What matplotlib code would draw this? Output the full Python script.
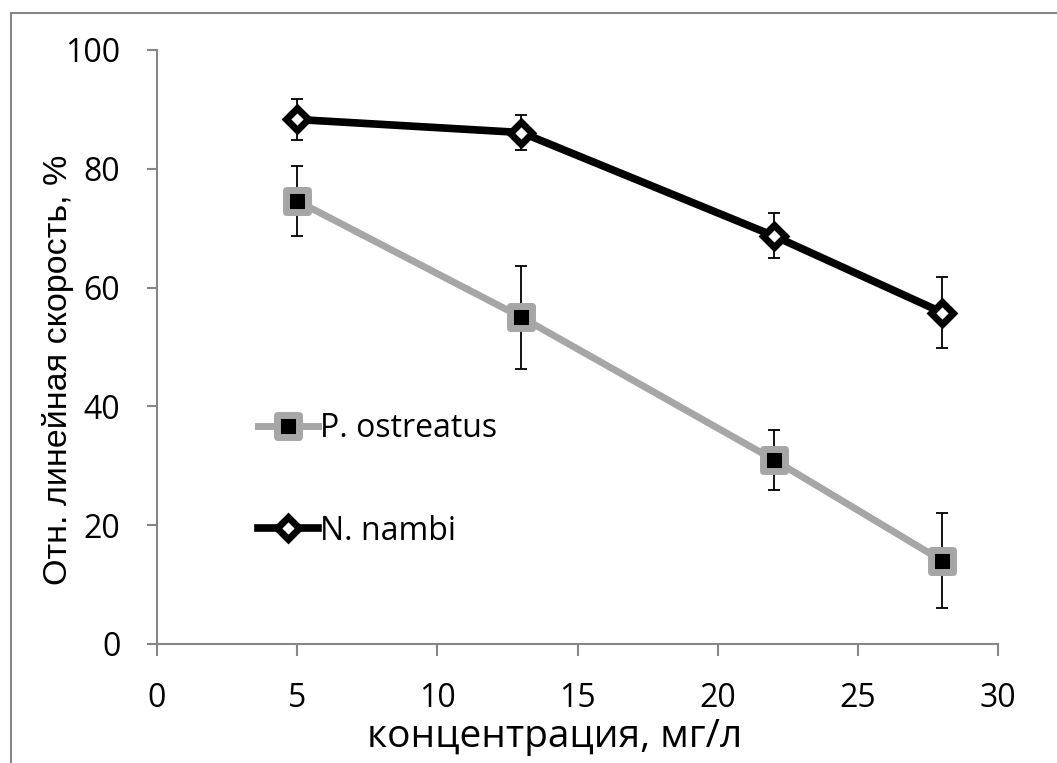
import matplotlib
matplotlib.use('Agg')
import matplotlib.pyplot as plt
from matplotlib.markers import MarkerStyle
from matplotlib.patches import Rectangle

# концентрация, мг/л
conc = [5, 13, 22, 28]

# P. ostreatus
p_ostreatus = [74.6, 55.0, 31.0, 14.0]
p_ostreatus_err = [5.9, 8.7, 5.0, 8.0]

# N. nambi
n_nambi = [88.3, 86.1, 68.7, 55.8]
n_nambi_err = [3.5, 3.0, 3.8, 6.0]

x_ticks = [0, 5, 10, 15, 20, 25, 30]
y_ticks = [0, 20, 40, 60, 80, 100]

plt.rcParams['font.family'] = ['Open Sans', 'DejaVu Sans']
gray = '#868686'

fig = plt.figure(figsize=(10.57, 7.63), dpi=100)
ax = fig.add_axes([0.1483, 0.156, 0.7962, 0.7785])

# рамка вокруг диаграммы
fig.patches.append(Rectangle((11 / 1057, -0.1), 1.2, (763 - 13) / 763 + 0.1,
                             transform=fig.transFigure, fill=False,
                             edgecolor=gray, linewidth=1.5, zorder=0))

# погрешности под линиями
ax.errorbar(conc, p_ostreatus, yerr=p_ostreatus_err, fmt='none', ecolor='black',
            elinewidth=1.3, capsize=4.3, capthick=1.3, zorder=1)
ax.errorbar(conc, n_nambi, yerr=n_nambi_err, fmt='none', ecolor='black',
            elinewidth=1.3, capsize=4.3, capthick=1.3, zorder=1)

sq = MarkerStyle('s', joinstyle='round')
ax.plot(conc, p_ostreatus, color='#A6A6A6', linewidth=5, marker=sq,
        markersize=16.5, markerfacecolor='black', markeredgecolor='#A6A6A6',
        markeredgewidth=5, label='P. ostreatus', zorder=2)
ax.plot(conc, n_nambi, color='black', linewidth=5.5, marker='D',
        markersize=11, markerfacecolor='white', markeredgecolor='black',
        markeredgewidth=5, label='N. nambi', zorder=3)

ax.set_xlim(0, 30)
ax.set_ylim(0, 100)
ax.set_xticks(x_ticks)
ax.set_yticks(y_ticks)

for side in ['top', 'right']:
    ax.spines[side].set_visible(False)
for side in ['left', 'bottom']:
    ax.spines[side].set_color(gray)
    ax.spines[side].set_linewidth(1.5)
ax.tick_params(axis='both', colors=gray, width=1.5, labelcolor='black',
               labelsize=23, direction='out')
ax.tick_params(axis='x', length=8.5, pad=19)
ax.tick_params(axis='y', length=7.2, pad=19)

ax.set_xlabel('концентрация, мг/л', fontsize=28)
ax.xaxis.set_label_coords(0.473, -0.173)
ax.xaxis.label.set_va('baseline')

ax.set_ylabel('Отн. линейная скорость, %', fontsize=24.5,
              family=['Liberation Sans Narrow', 'Liberation Sans'])
ax.yaxis.set_label_coords(-0.098, 0.462)

ax.legend(loc='upper left', bbox_to_anchor=(0.12, 0.39), frameon=False,
          fontsize=23, handlelength=1.9, handletextpad=0.05,
          labelspacing=2.17, borderpad=0, borderaxespad=0)

fig.savefig('out.png', dpi=100)
